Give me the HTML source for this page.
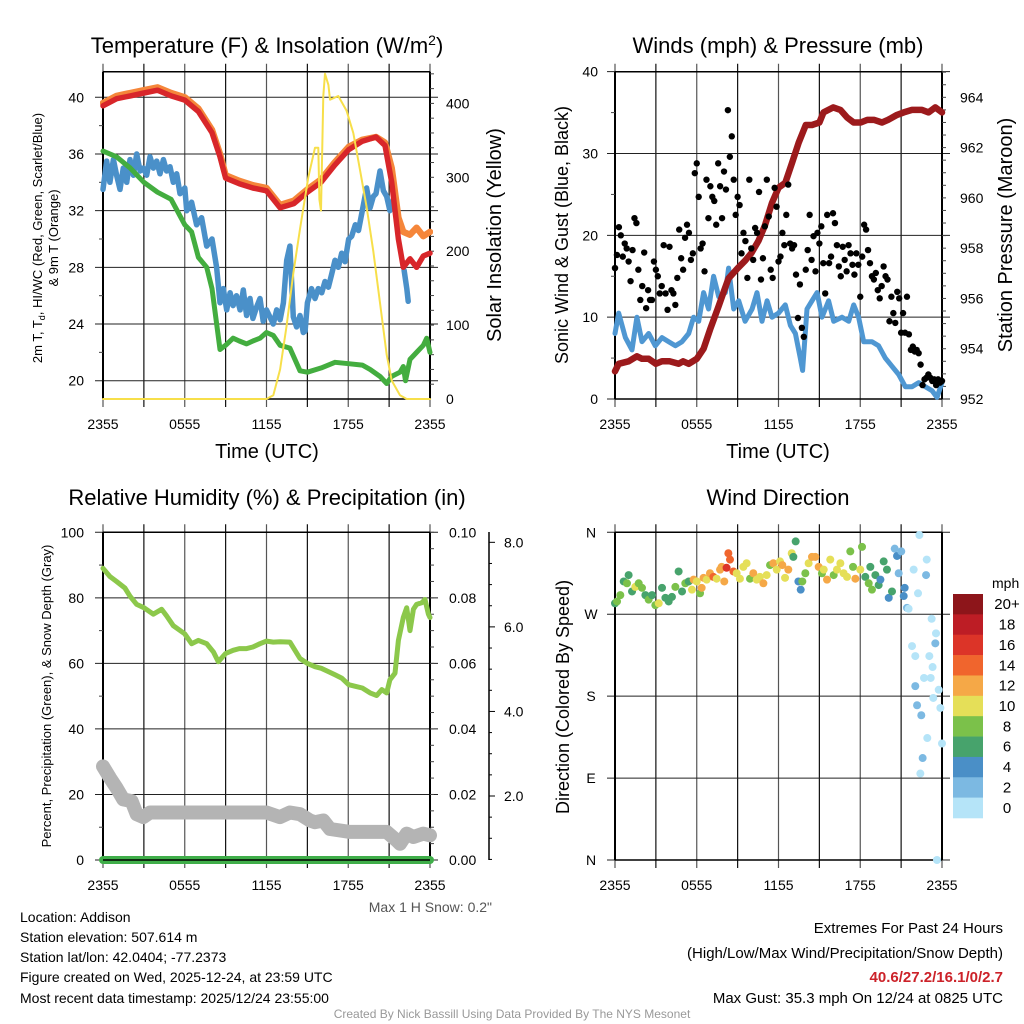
<!DOCTYPE html>
<html><head><meta charset="utf-8"><style>
html,body{margin:0;padding:0;background:#fff;}
svg{display:block;font-family:"Liberation Sans",Arial,sans-serif;}
</style></head><body>
<svg id="chart" width="1024" height="1024" viewBox="0 0 1024 1024" xmlns="http://www.w3.org/2000/svg">
<rect width="1024" height="1024" fill="#fff"/>
<g id="layer"></g>
<text x="267" y="53" font-size="22" text-anchor="middle">Temperature (F) &amp; Insolation (W/m<tspan dy="-8" font-size="14">2</tspan><tspan dy="8">)</tspan></text>
<text x="778" y="53" font-size="22" text-anchor="middle">Winds (mph) &amp; Pressure (mb)</text>
<text x="267" y="505" font-size="22" text-anchor="middle">Relative Humidity (%) &amp; Precipitation (in)</text>
<text x="778" y="505" font-size="22" text-anchor="middle">Wind Direction</text>
<text x="267" y="458" font-size="20" text-anchor="middle">Time (UTC)</text>
<text x="778" y="458" font-size="20" text-anchor="middle">Time (UTC)</text>
<g font-size="13" text-anchor="middle">
<text transform="translate(42,238) rotate(-90)">2m T, T<tspan dy="3" font-size="9">d</tspan><tspan dy="-3">, HI/WC (Red, Green, Scarlet/Blue)</tspan></text>
<text transform="translate(58,238) rotate(-90)">&amp; 9m T (Orange)</text>
</g>
<text transform="translate(501,235) rotate(-90)" font-size="20" text-anchor="middle">Solar Insolation (Yellow)</text>
<text transform="translate(568,235) rotate(-90)" font-size="18" text-anchor="middle">Sonic Wind &amp; Gust (Blue, Black)</text>
<text transform="translate(1012,235) rotate(-90)" font-size="20" text-anchor="middle">Station Pressure (Maroon)</text>
<text transform="translate(51,696) rotate(-90)" font-size="13" text-anchor="middle">Percent, Precipitation (Green), &amp; Snow Depth (Gray)</text>
<text transform="translate(569,697) rotate(-90)" font-size="18" text-anchor="middle">Direction (Colored By Speed)</text>
<text x="492" y="912" font-size="14" fill="#555" text-anchor="end">Max 1 H Snow: 0.2"</text>
<g font-size="14">
<text x="20" y="922">Location: Addison</text>
<text x="20" y="942">Station elevation: 507.614 m</text>
<text x="20" y="962">Station lat/lon: 42.0404; -77.2373</text>
<text x="20" y="982">Figure created on Wed, 2025-12-24, at 23:59 UTC</text>
<text x="20" y="1003">Most recent data timestamp: 2025/12/24 23:55:00</text>
</g>
<g font-size="15" text-anchor="end">
<text x="1003" y="933">Extremes For Past 24 Hours</text>
<text x="1003" y="958">(High/Low/Max Wind/Precipitation/Snow Depth)</text>
<text x="1003" y="982" fill="#cc2229" font-weight="bold">40.6/27.2/16.1/0/2.7</text>
<text x="1003" y="1003">Max Gust: 35.3 mph On 12/24 at 0825 UTC</text>
</g>
<text x="512" y="1018" font-size="12" fill="#999" text-anchor="middle">Created By Nick Bassill Using Data Provided By The NYS Mesonet</text>
</svg>
<script>
// ---------- data ----------
const xTickLabels = ["2355","0555","1155","1755","2355"];
const tempTicks = [20,24,28,32,36,40];
const solarTicks = [0,100,200,300,400];
const windTicks = [0,10,20,30,40];
const presTicks = [952,954,956,958,960,962,964];
const rhTicks = [0,20,40,60,80,100];
const precipTicks = ["0.00","0.02","0.04","0.06","0.08","0.10"];
const snowTicks = [2,4,6,8];
const dirTickLabels = ["N","E","S","W","N"];
const speedBinLabels = ["0","2","4","6","8","10","12","14","16","18","20+"];
const speedBinColors = ["#b5e4f8","#7cb9e2","#4a8fc7","#47a36c","#7bc14a","#e5df58","#f5a847","#f0652d","#dc3428","#bd1d25","#8d151a"];

const tempHours = [0,1,2,3,4,5,6,7,8,8.59,9,10,11,12,13,14,15,16,17,18.03,19.03,20.04,20.7,21.19,21.68,22.04,22.53,23.02,23.51,24];
const tempValues = [39.4,39.9,40.1,40.3,40.5,40.1,39.8,39.0,37.5,35.8,34.3,33.9,33.6,33.4,32.2,32.5,33.3,34.0,35.2,36.3,36.9,37.2,36.6,34.0,30.0,28.0,28.6,28.0,28.8,29.0];
const temp9Values = [39.6,40.1,40.3,40.5,40.7,40.3,40.0,39.2,37.7,36.0,34.5,34.1,33.8,33.6,32.4,32.7,33.5,34.2,35.4,36.5,37.0,37.2,36.8,35.0,31.5,30.5,30.3,30.8,30.2,30.5];
const chillHours = [0,0.27,0.51,0.76,1.0,1.25,1.49,1.74,1.98,2.23,2.47,2.72,2.96,3.21,3.45,3.7,3.94,4.18,4.43,4.67,4.92,5.16,5.41,5.65,6.0,6.14,6.5,6.87,7.24,7.61,8.0,8.34,8.59,8.83,9.08,9.33,9.55,9.8,10.06,10.3,10.54,10.79,11.0,11.27,11.52,11.76,12.0,12.25,12.5,12.75,13.0,13.24,13.48,13.72,13.97,14.21,14.46,14.7,14.83,15.0,15.3,15.56,15.8,16.05,16.29,16.54,16.78,17.03,17.27,17.52,17.76,18.03,18.25,18.52,18.75,19.03,19.35,19.6,19.84,20.04,20.33,20.58,20.82,21.06,21.31];
const chillValues = [33.5,35.5,34.0,35.6,34.5,33.5,35.0,34.0,35.6,34.5,36.0,34.8,35.0,34.5,35.8,35.0,35.5,34.6,35.6,34.8,35.1,34.0,34.6,33.2,33.6,32.0,32.6,31.0,31.5,29.5,30.0,28.0,25.5,26.5,25.0,26.2,25.3,26.0,25.0,26.4,24.6,25.8,24.4,25.2,25.8,24.2,25.0,24.5,24.0,25.0,24.3,25.5,28.5,29.5,24.5,23.8,24.6,23.4,23.5,25.5,26.5,25.8,26.5,26.2,27.0,26.6,27.5,28.5,28.0,29.0,28.4,30.0,30.2,31.0,30.6,32.0,33.6,32.2,33.0,33.2,34.8,33.4,33.0,32.0,32.8];
const chill2Hours = [22.1,22.3,22.4];
const chill2Values = [27.8,26.5,25.6];
const dewHours = [0,1.0,2.0,3.0,4.0,5.0,6.0,6.5,7.0,7.61,8.0,8.59,9.0,9.55,10.0,10.54,11.0,11.52,12.0,12.5,13.0,13.72,14.46,15.0,16.02,17.03,18.03,19.03,19.6,20.33,20.82,21.19,21.8,22.04,22.2,22.53,23.02,23.51,23.76,24];
const dewValues = [36.2,35.8,35.0,34.0,33.3,32.8,31.0,30.5,28.7,28.0,26.5,22.2,22.5,23.0,22.8,22.6,22.8,23.0,23.4,23.2,22.5,22.3,20.7,20.6,20.9,21.3,21.2,21.1,20.8,20.3,19.8,20.3,20.6,21.0,20.0,21.5,22.0,22.5,23.0,22.0];
const solarHours = [0,12.0,12.5,13.0,13.48,13.97,14.46,15.07,15.56,15.8,15.88,16.0,16.17,16.29,16.54,16.66,17.27,17.88,18.37,18.86,19.35,19.84,20.33,20.82,21.19,21.8,22.29,24];
const solarValues = [0,0,5,40,100,170,230,300,340,340,270,255,410,440,425,405,410,390,360,310,260,200,130,60,25,5,0,0];

const windHours = [0,0.27,0.76,1.25,1.61,1.98,2.47,2.96,3.45,3.94,4.43,4.92,5.41,5.77,6.14,6.5,6.87,7.24,7.61,8.1,8.34,8.71,9.08,9.55,10.06,10.42,10.79,11.16,11.52,12.0,12.5,12.87,13.24,13.6,13.77,14.09,14.46,14.83,15.19,15.68,16.05,16.66,17.15,17.52,17.88,18.25,18.86,19.35,19.84,20.33,20.82,21.31,21.8,22.29,22.78,23.27,23.63,24];
const windValues = [8,10.5,7.5,6,10,7,8,6.5,7.5,7,6.5,7,8,10,9.5,13,11,15,12.5,13,16,11,12,9.5,11,13,9.5,12,10,10.5,11.5,9,8,5,3.5,11,12,13,10,12,9.5,10,9.5,11.5,10,7,7,6.5,5,4,3,1.5,1.5,2,1.5,1,0.2,2];
const gustValues = [16,17.6,21,20,17.4,19,18.4,16.8,14.4,18.2,22.1,21.5,15.8,12.1,13.8,17.9,11.1,13.3,12.1,12.1,16.8,15.8,15,12.9,13.8,18.8,12.9,10.9,18.6,13.3,12.9,11.5,14.8,20.7,17.2,15.8,19.7,21.3,20.3,17,17.8,27.6,28.8,24.7,18.4,19,15.6,26.8,22.1,26,24.7,24.2,21.3,28.8,26,22.1,27.8,25.6,35.3,29.6,32.1,26.8,22.5,24.7,23.7,17.8,20.3,19.3,14.8,26.8,18.4,17,20.9,20.3,25.3,14.6,17.2,21.1,26.8,22.3,15.8,14.8,25.8,23.5,16.8,17.4,20.3,18.8,22.5,26.2,19,18.4,18.8,15.2,9.9,14,8.7,7.6,15.8,18.2,22.5,17,19.9,15.6,20.3,19,21.1,16.6,12.9,22.5,16.6,17.4,22.7,21.5,18.8,16.2,15,18.6,17,15.6,18.8,17.8,16.4,15.2,17.8,16.4,12.5,17.4,21.3,20.7,18.2,16.6,15,14.6,15.4,13.3,12.3,13.8,16.2,15,14.6,9.5,12.5,10.5,9.3,13.1,12.3,8.1,10.5,8.1,12.5,7.9,6,6.4,5.8,6,5.6,4.2,1.7,2.4,2.6,3,2.6,2.2,2.4,1.7,2.4,2,2.2];
const presHours = [0,0.27,1.0,1.61,1.98,2.47,3.0,3.45,4.0,4.67,5.0,5.41,6.0,6.5,7.0,7.61,8.0,8.34,9.0,9.55,10.0,10.54,11.0,11.52,12.0,12.5,13.0,13.48,14.0,14.46,15.0,15.3,16.02,16.54,17.03,17.52,18.03,18.52,19.03,19.6,20.04,20.7,21.19,21.8,22.53,23.02,23.51,24];
const presValues = [953.1,953.4,953.5,953.7,953.6,953.6,953.4,953.5,953.5,953.4,953.5,953.4,953.6,954.0,954.8,955.7,956.3,956.8,957.2,957.5,957.8,958.3,958.9,959.8,960.4,960.6,961.4,962.2,962.9,962.9,963.0,963.4,963.6,963.5,963.2,963.0,963.0,963.1,963.1,963.0,963.1,963.3,963.4,963.5,963.5,963.4,963.6,963.4];

const rhHours = [0,0.51,1.0,1.61,1.98,2.47,3.0,3.69,4.3,4.67,5.16,6.0,6.5,7.0,7.61,8.1,8.46,9.0,9.55,10.0,10.54,11.0,11.52,12.0,12.5,13.0,13.72,14.46,15.0,15.56,16.02,16.54,17.03,17.52,18.03,18.52,19.03,19.6,20.09,20.46,20.82,21.06,21.43,21.68,22.04,22.29,22.53,22.78,23.02,23.39,23.63,23.88,24];
const rhValues = [89,86.5,85,83,80.5,78,77,75,76.5,74.5,71.5,69,66,67,66,63.5,60.5,63,64,64.5,64.5,65,66,66.8,66.5,66.6,66.5,61.5,60,59,58.5,57.5,56.5,55.5,53.5,53,52.5,51,50.2,52,51,55,57,67,74,77,70,76.5,78,78.5,79.5,75,74];
const precipHours = [0,24];
const precipValues = [0,0];
const snowHours = [0,0.51,1.0,1.49,2.1,2.47,2.96,3.45,12.0,12.98,13.72,14.46,15.19,15.56,16.17,16.66,18.13,20.82,21.55,21.8,22.29,22.78,23.51,24];
const snowValues = [2.70,2.43,2.19,1.92,1.88,1.57,1.50,1.61,1.61,1.50,1.61,1.57,1.42,1.38,1.42,1.22,1.15,1.15,0.95,0.87,1.11,1.03,1.11,1.07];

const dirHours = [0,0.15,0.39,0.64,0.88,1.0,1.25,1.49,1.74,1.98,2.23,2.47,2.72,2.96,3.21,3.45,3.7,3.94,4.18,4.43,4.67,4.92,5.16,5.41,5.65,5.77,6.0,6.24,6.36,6.5,6.73,6.97,7.22,7.46,7.71,7.83,8.02,8.19,8.32,8.44,8.69,8.93,9.17,9.42,9.66,9.91,10.15,10.4,10.64,10.89,11.13,11.38,11.62,11.87,12.11,12.28,12.48,12.72,12.97,13.09,13.26,13.46,13.63,13.75,13.97,14.21,14.46,14.7,14.95,15.19,15.32,15.56,15.8,16.05,16.29,16.54,16.78,17.03,17.27,17.47,17.64,18.0,18.13,18.37,18.62,18.74,18.86,19.11,19.35,19.48,19.72,19.96,20.09,20.33,20.53,20.7,20.82,21.01,21.19,21.26,21.43,21.55,21.8,21.92,22.04,22.04,22.17,22.24,22.34,22.41,22.48,22.58,22.68,22.83,22.88,22.92,23.07,23.17,23.24,23.31,23.36,23.51,23.56,23.63,23.76,23.88,24];
const dirValues = [282,284,291,306,304,313,295,300,304,299,291,286,291,280,282,299,288,284,289,300,317,295,304,306,297,308,306,293,299,310,308,315,311,309,319,322,306,321,337,330,317,315,309,322,326,309,315,308,311,304,313,324,326,319,328,324,310,319,337,333,350,306,297,306,315,326,333,333,322,315,319,308,330,313,319,326,315,311,339,322,309,319,344,311,304,322,297,313,302,308,328,319,288,295,342,334,315,339,290,299,277,276,235,319,224,191,170,293,357,95,159,112,200,313,330,134,224,200,265,212,178,238,249,0,187,167,128,183];
const dirSpeeds = [7,8,8,6,8,6,7,10,8,8,7,8,6,8,10,6,6,6,6,8,6,6,8,7,10,12,10,8,12,12,10,12,14,10,12,12,12,16,14,14,14,10,10,10,10,8,12,10,10,12,10,8,12,10,10,12,10,12,10,6,6,4,4,8,8,10,12,12,12,8,10,12,10,8,10,10,10,10,8,8,12,10,8,6,8,6,8,6,6,4,6,6,4,6,2,4,2,2,4,4,2,1,1,1,1,3,3,1,0,1,3,3,1,3,1,1,1,1,1,1,1,3,1,0,1,1,1,3];

// ---------- helpers ----------
const NS = "http://www.w3.org/2000/svg";
const layer = document.getElementById('layer');
function mk(tag, attrs, parent) {
  const e = document.createElementNS(NS, tag);
  for (const k in attrs) e.setAttribute(k, attrs[k]);
  (parent || layer).appendChild(e);
  return e;
}
function txt(s, x, y, size, anchor, parent) {
  const t = mk('text', {x: x, y: y, 'font-size': size, 'text-anchor': anchor}, parent);
  t.textContent = s;
  return t;
}
const X0 = 103, X1 = 430, X0b = 615, X1b = 942;
function xs(x0, x1) { return h => x0 + h / 24 * (x1 - x0); }
function linePath(hours, vals, sx, sy) {
  const n = Math.min(hours.length, vals.length);
  let s = '';
  for (let i = 0; i < n; i++) s += (i ? 'L' : 'M') + sx(hours[i]).toFixed(1) + ' ' + sy(vals[i]).toFixed(1) + ' ';
  return s;
}
function grid(g, x0, x1, yTop, yBot, hLines) {
  const sx = xs(x0, x1);
  for (let k = 0; k <= 8; k++) {
    const x = sx(k * 3);
    mk('line', {x1: x, y1: yTop - 8, x2: x, y2: yBot + 8, stroke: k % 2 ? '#111' : '#555', 'stroke-width': 1.2}, g);
  }
  hLines.forEach(y => mk('line', {x1: x0 - 8, y1: y, x2: x1 + 8, y2: y, stroke: '#222', 'stroke-width': 1}, g));
  mk('line', {x1: x0, y1: yTop, x2: x0, y2: yBot, stroke: '#000', 'stroke-width': 2}, g);
  mk('line', {x1: x1, y1: yTop, x2: x1, y2: yBot, stroke: '#000', 'stroke-width': 2}, g);
  mk('line', {x1: x0, y1: yTop, x2: x1, y2: yTop, stroke: '#000', 'stroke-width': 1.5}, g);
  xTickLabels.forEach((l, i) => {
    const t = txt(l, sx(i * 6), yBot + 30, 14, 'middle', g);
    
    
  });
}
function minorTicks(g, x, ys, dir) {
  ys.forEach(y => mk('line', {x1: x, y1: y, x2: x + dir * 4, y2: y, stroke: '#444', 'stroke-width': 1}, g));
}

// ---------- Panel 1: temperature ----------
(function () {
  const g = mk('g', {});
  
  
  const sx = xs(X0, X1);
  const yT = v => 380.7 - (v - 20) * 14.17;
  const yS = v => 399 - v * 0.739;
  grid(g, X0, X1, 71.7, 399, tempTicks.map(yT));
  const mt = []; for (let v = 22; v <= 40; v += 4) mt.push(yT(v));
  minorTicks(g, X0, mt, -1);
  const ms = []; for (let v = 20; v <= 440; v += 20) ms.push(yS(v));
  minorTicks(g, X1, ms, 1);
  mk('line', {x1: X0, y1: 399, x2: X1, y2: 399, stroke: '#000', 'stroke-width': 1.5}, g);
  tempTicks.forEach(v => { const t = txt(v, 84, yT(v) + 5, 14, 'end', g);   });
  solarTicks.forEach(v => { const t = txt(v, 446, yS(v) + 5, 14, 'start', g);   });
  const cl = mk('clipPath', {id: 'c1'}, g); mk('rect', {x: X0 - 3, y: 70, width: X1 - X0 + 6, height: 330}, cl);
  const d = mk('g', {'clip-path': 'url(#c1)', fill: 'none', 'stroke-linejoin': 'round', 'stroke-linecap': 'round'}, g);
  const s1 = mk('path', {d: linePath(chillHours, chillValues, sx, yT), stroke: '#4a90c9', 'stroke-width': 5.5}, d);
   
  const s1b = mk('path', {d: linePath(chill2Hours, chill2Values, sx, yT), stroke: '#4a90c9', 'stroke-width': 5.5}, d);
   
  const s2 = mk('path', {d: linePath(dewHours, dewValues, sx, yT), stroke: '#43ad3f', 'stroke-width': 5}, d);
   
  const s3 = mk('path', {d: linePath(tempHours, temp9Values, sx, yT), stroke: '#f5863a', 'stroke-width': 6.5}, d);
   
  const s4 = mk('path', {d: linePath(tempHours, tempValues, sx, yT), stroke: '#d8262a', 'stroke-width': 5.5}, d);
   
  const s5 = mk('path', {d: linePath(solarHours, solarValues, sx, yS), stroke: '#f7df4a', 'stroke-width': 2}, d);
   
})();

// ---------- Panel 2: wind & pressure ----------
(function () {
  const g = mk('g', {});
  
  
  const sx = xs(X0b, X1b);
  const yW = v => 399 - v * 8.183;
  const yP = v => 399 - (v - 952) * 25.14;
  grid(g, X0b, X1b, 71.7, 399, windTicks.map(yW));
  const mw = []; for (let v = 5; v <= 35; v += 10) mw.push(yW(v));
  minorTicks(g, X0b, mw, -1);
  const mp = []; for (let v = 952.5; v <= 965; v += 0.5) mp.push(yP(v));
  minorTicks(g, X1b, mp, 1);
  mk('line', {x1: X0b, y1: 399, x2: X1b, y2: 399, stroke: '#000', 'stroke-width': 1.5}, g);
  windTicks.forEach(v => { const t = txt(v, 598, yW(v) + 5, 14, 'end', g);   });
  presTicks.forEach(v => { const t = txt(v, 960, yP(v) + 5, 14, 'start', g);   });
  const d = mk('g', {fill: 'none', 'stroke-linejoin': 'round', 'stroke-linecap': 'round'}, g);
  const w = mk('path', {d: linePath(windHours, windValues, sx, yW), stroke: '#4f97d2', 'stroke-width': 5}, d);
   
  const gg = mk('g', {fill: '#000'}, g);
  gustValues.forEach((v, i) => {
    const h = i * 24 / (gustValues.length - 1);
    const c = mk('circle', {cx: sx(h), cy: yW(v), r: 3.2}, gg);
    
    
  });
  const p = mk('path', {d: linePath(presHours, presValues, sx, yP), stroke: '#9c1a1c', 'stroke-width': 6.5}, d);
   
})();

// ---------- Panel 3: RH, precip, snow ----------
(function () {
  const g = mk('g', {});
  
  
  const sx = xs(X0, X1);
  const yR = v => 860 - v * 3.277;
  const yN = v => 796 - (v - 2) * 42.28;
  grid(g, X0, X1, 532.3, 860, rhTicks.map(yR));
  const mr = []; for (let v = 10; v <= 90; v += 20) mr.push(yR(v));
  minorTicks(g, X0, mr, -1);
  const mq = []; for (let v = 5; v <= 100; v += 5) mq.push(yR(v));
  minorTicks(g, X1, mq, 1);
  rhTicks.forEach(v => { const t = txt(v, 84, yR(v) + 5, 14, 'end', g);   });
  precipTicks.forEach((l, i) => { const t = txt(l, 449, yR(i * 20) + 5, 14, 'start', g);   });
  const ax = mk('line', {x1: 489, y1: 532, x2: 489, y2: 860, stroke: '#000', 'stroke-width': 1.5}, g);
   
  for (let v = 0.5; v <= 8.2; v += 0.5) {
    const major = Math.abs(v - Math.round(v / 2) * 2) < 0.01;
    mk('line', {x1: 489, y1: yN(v), x2: 489 + (major ? 6 : 3), y2: yN(v), stroke: '#000', 'stroke-width': 1}, g);
  }
  snowTicks.forEach(v => { const t = txt(v.toFixed(1), 504, yN(v) + 5, 14, 'start', g);   });
  const d = mk('g', {fill: 'none', 'stroke-linejoin': 'round', 'stroke-linecap': 'round'}, g);
  const s = mk('path', {d: linePath(snowHours, snowValues, sx, yN), stroke: '#b4b4b4', 'stroke-width': 14}, d);
   
  const r = mk('path', {d: linePath(rhHours, rhValues, sx, yR), stroke: '#8cc84b', 'stroke-width': 5}, d);
   
  const pr = mk('path', {d: linePath(precipHours, precipValues, sx, yR), stroke: '#3fae49', 'stroke-width': 8}, d);
   
  mk('line', {x1: X0, y1: 860, x2: X1, y2: 860, stroke: '#000', 'stroke-width': 1.5}, g);
})();

// ---------- Panel 4: wind direction ----------
(function () {
  const g = mk('g', {});
  
  
  const sx = xs(X0b, X1b);
  const yD = v => 860 - v / 360 * 327.7;
  grid(g, X0b, X1b, 532.3, 860, [0, 90, 180, 270, 360].map(yD));
  mk('line', {x1: X0b, y1: 860, x2: X1b, y2: 860, stroke: '#000', 'stroke-width': 1.5}, g);
  dirTickLabels.forEach((l, i) => { const t = txt(l, 591, yD(i * 90) + 5, 14, 'middle', g);   });
  const dg = mk('g', {}, g);
  const n = Math.min(dirHours.length, dirValues.length, dirSpeeds.length);
  for (let i = 0; i < n; i++) {
    const bin = Math.min(10, Math.floor(dirSpeeds[i] / 2));
    const c = mk('circle', {cx: sx(dirHours[i]), cy: yD(dirValues[i]), r: 4, fill: speedBinColors[bin]}, dg);
    
    
  }
  const lg = mk('g', {}, g);
  
  
  const t0 = txt('mph', 992, 588, 14, 'start', lg);
   
  const top = 594, bh = 224 / 11;
  speedBinLabels.forEach((l, i) => {
    const k = 10 - i;
    const y = top + i * bh;
    const rct = mk('rect', {x: 953, y: y, width: 30, height: bh + 0.3, fill: speedBinColors[k]}, lg);
    
    
    const t = txt(speedBinLabels[k], 1007, y + bh / 2 + 5, 15, 'middle', lg);
    
    
  });
})();
</script>
</body></html>
